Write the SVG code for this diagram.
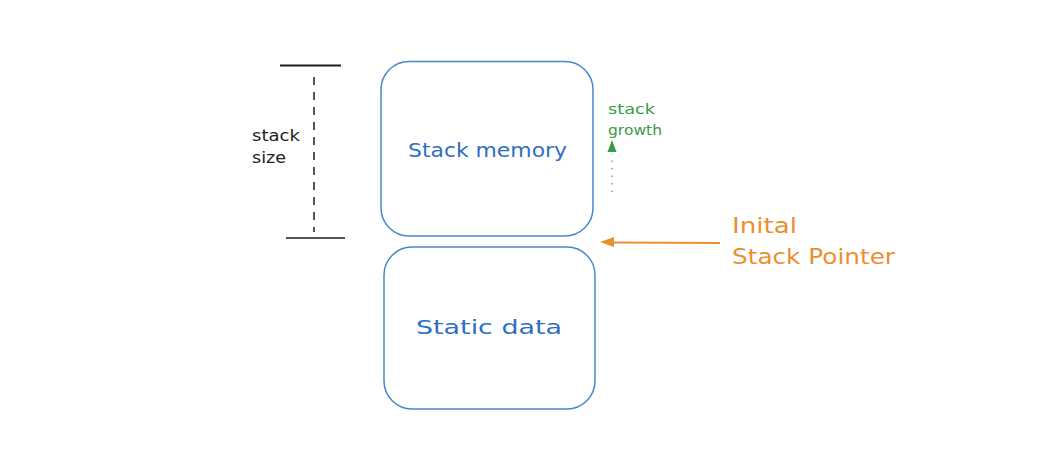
<svg xmlns="http://www.w3.org/2000/svg" width="1046" height="465" viewBox="0 0 1046 465">
<style>
.box{fill:#fff;stroke:#4a86d0;stroke-width:1.5}
.lbl{font-family:"DejaVu Sans","Liberation Sans",sans-serif;fill:#2f6fc0;font-size:20px}
.dark{font-family:"DejaVu Sans","Liberation Sans",sans-serif;fill:#1e1e1e;font-size:15px}
.green{font-family:"DejaVu Sans","Liberation Sans",sans-serif;fill:#3a9a48;font-size:13.5px}
.orange{font-family:"DejaVu Sans","Liberation Sans",sans-serif;fill:#ea9030;font-size:22px}
</style>
<rect width="1046" height="465" fill="#fff"/>
<g id="connectors">
<line x1="280" y1="65.5" x2="341" y2="65.5" stroke="#1e1e1e" stroke-width="2"/>
<line x1="286" y1="238" x2="345" y2="238" stroke="#555" stroke-width="2"/>
<line x1="314" y1="77" x2="314" y2="232" stroke="#1e1e1e" stroke-width="1.5" stroke-dasharray="8 7"/>
<line x1="612" y1="192" x2="612" y2="154" stroke="#3a9a48" stroke-width="1.5" stroke-dasharray="1.5 6" opacity="0.75"/>
<path d="M612,140 L616.5,152 L607.5,152 Z" fill="#3a9a48"/>
<line x1="720" y1="243" x2="614" y2="242.5" stroke="#ea9030" stroke-width="2"/>
<path d="M600,242 L614,237 L614,247 Z" fill="#ea9030"/>
</g>
<g id="stack-size">
<text class="dark" x="252" y="141" textLength="48" lengthAdjust="spacingAndGlyphs">stack</text>
<text class="dark" x="252" y="163" textLength="34" lengthAdjust="spacingAndGlyphs">size</text>
</g>
<g id="stack-memory">
<rect class="box" x="381" y="61.5" width="212" height="174.5" rx="28"/>
<text class="lbl" x="408" y="157" textLength="159" lengthAdjust="spacingAndGlyphs">Stack memory</text>
</g>
<g id="static-data">
<rect class="box" x="384" y="247" width="211" height="162" rx="28"/>
<text class="lbl" x="416" y="334" textLength="146" lengthAdjust="spacingAndGlyphs">Static data</text>
</g>
<g id="stack-growth">
<text class="green" x="608" y="114" textLength="47" lengthAdjust="spacingAndGlyphs">stack</text>
<text class="green" x="608" y="135" textLength="54" lengthAdjust="spacingAndGlyphs">growth</text>
</g>
<g id="initial-sp">
<text class="orange" x="732" y="233" textLength="65" lengthAdjust="spacingAndGlyphs">Inital</text>
<text class="orange" x="732" y="264" textLength="163" lengthAdjust="spacingAndGlyphs">Stack Pointer</text>
</g>
</svg>
